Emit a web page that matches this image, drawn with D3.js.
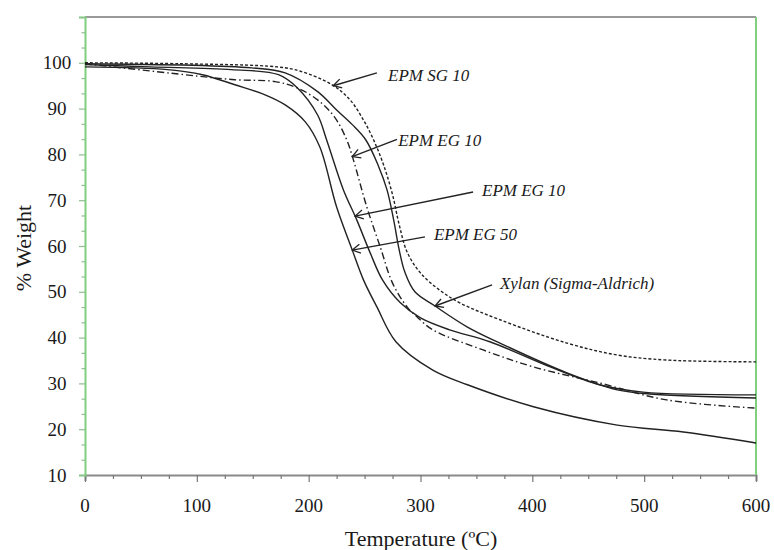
<!DOCTYPE html>
<html>
<head>
<meta charset="utf-8">
<script src="https://cdn.jsdelivr.net/npm/d3@7"></script>
<style>
  html, body { margin: 0; padding: 0; background: #fff; }
  svg { display: block; }
  text { font-family: "Liberation Serif", "Times New Roman", serif; fill: #1a1a1a; }
</style>
</head>
<body>
<svg id="chart" width="774" height="550"></svg>
<script>
// Thermogravimetric curves: temperature (°C) against residual weight (%)
const sg10Temp = [0, 85, 172, 192, 221, 237, 249, 258, 267, 275, 281, 288, 300, 317, 335, 371, 431, 476, 520, 600];
const sg10Wt   = [100.0, 99.8, 99.1, 98.2, 95.2, 91.9, 87.5, 83.2, 77.7, 71.2, 64.6, 58.7, 54.1, 50.4, 47.6, 43.9, 38.8, 36.2, 35.1, 34.7];

const eg10aTemp = [0, 89, 134, 170, 190, 208, 223, 234, 240, 252, 264, 275, 288, 297, 311, 356, 401, 460, 520, 600];
const eg10aWt   = [99.8, 97.4, 96.3, 95.9, 94.5, 91.9, 88.2, 83.2, 78.8, 68.5, 59.8, 51.9, 46.7, 44.5, 41.7, 37.3, 33.6, 30.1, 26.4, 24.6];

const eg10bTemp = [0, 58, 131, 173, 190, 208, 216, 231, 243, 255, 266, 282, 300, 326, 362, 416, 460, 499, 600];
const eg10bWt   = [99.6, 99.1, 98.5, 97.4, 94.5, 88.6, 83.2, 72.3, 65.7, 58.5, 52.6, 47.6, 44.3, 41.7, 39.1, 33.6, 29.7, 28.1, 27.5];

const eg50Temp = [0, 74, 105, 134, 161, 179, 197, 210, 225, 239, 249, 261, 278, 311, 342, 401, 476, 535, 600];
const eg50Wt   = [99.1, 98.5, 97.4, 95.2, 93.0, 90.8, 87.1, 81.6, 68.5, 59.1, 52.6, 46.7, 39.1, 32.9, 29.7, 24.9, 20.9, 19.4, 17.0];

const xylanTemp = [0, 149, 179, 208, 225, 239, 251, 262, 270, 276, 281, 286, 295, 313, 342, 371, 431, 476, 505, 600];
const xylanWt   = [99.8, 98.9, 97.8, 93.7, 89.7, 86.5, 83.2, 77.7, 72.3, 65.7, 59.1, 54.3, 50.0, 46.9, 42.3, 38.8, 32.3, 28.6, 27.7, 26.8];

const xTickValues = [0, 100, 200, 300, 400, 500, 600];
const yTickValues = [10, 20, 30, 40, 50, 60, 70, 80, 90, 100];

const seriesNames = ["EPM SG 10", "EPM EG 10", "EPM EG 10", "EPM EG 50", "Xylan (Sigma-Aldrich)"];

// Line styles per series
const series = [
  { name: seriesNames[0], t: sg10Temp,  w: sg10Wt,  dash: "3,2" },
  { name: seriesNames[1], t: eg10aTemp, w: eg10aWt, dash: "7,3,1.5,3" },
  { name: seriesNames[2], t: eg10bTemp, w: eg10bWt, dash: null },
  { name: seriesNames[3], t: eg50Temp,  w: eg50Wt,  dash: null },
  { name: seriesNames[4], t: xylanTemp, w: xylanWt, dash: null }
];

// Callout labels: label anchor (T, W), arrow tail (T, W), arrow tip temperature on its curve
const callouts = [
  { s: 0, label: [271, 97.4], tail: [261, 97.8], tipT: 222 },
  { s: 1, label: [280, 83.2], tail: [279, 83.3], tipT: 239 },
  { s: 2, label: [355, 72.3], tail: [347, 71.8], tipT: 241.5 },
  { s: 3, label: [312, 62.6], tail: [304, 62.0], tipT: 239 },
  { s: 4, label: [371, 51.9], tail: [364, 51.5], tipT: 313 }
];

const svg = d3.select("#chart");
const x = d3.scaleLinear().domain([0, 600]).range([85, 756]);
const y = d3.scaleLinear().domain([10, 110]).range([475, 17]);

// Frame: grey top and bottom, green left and right
svg.append("line").attr("x1", x(0)).attr("x2", x(600)).attr("y1", y(110)).attr("y2", y(110))
  .attr("stroke", "#9a9a9a").attr("stroke-width", 2);

// X axis with minor ticks every 25
const xMinor = d3.range(0, 601, 25);
const xAxisG = svg.append("g").attr("transform", `translate(0,${y(10)})`);
xAxisG.call(d3.axisBottom(x).tickValues(xMinor).tickSize(6).tickFormat(""));
xAxisG.select(".domain").attr("stroke", "#8a8a8a").attr("stroke-width", 2);
xAxisG.selectAll(".tick line").attr("stroke", "#777").attr("stroke-width", 1.2)
  .attr("y2", d => (d % 100 === 0 ? 7 : 4));
xAxisG.selectAll(".tick text").remove();

// Y axis with minor ticks every 10/3
const yMinor = d3.range(0, 31).map(i => 10 + i * 10 / 3);
const yAxisG = svg.append("g").attr("transform", `translate(${x(0)},0)`);
yAxisG.call(d3.axisLeft(y).tickValues(yMinor).tickSize(6).tickFormat(""));
yAxisG.select(".domain").attr("stroke", "#7fcf7f").attr("stroke-width", 2);
yAxisG.selectAll(".tick line").attr("stroke", "#8fbf8f").attr("stroke-width", 1.2)
  .attr("x2", (d, i) => (i % 3 === 0 ? -6 : -3.5));

svg.append("line").attr("x1", x(600)).attr("x2", x(600)).attr("y1", y(110)).attr("y2", y(10))
  .attr("stroke", "#7fcf7f").attr("stroke-width", 2);

// Tick labels
svg.append("g").selectAll("text").data(yTickValues).join("text")
  .attr("x", 57).attr("y", d => y(d)).attr("dy", "0.35em")
  .attr("text-anchor", "middle").attr("font-size", 19).text(d => d);

svg.append("g").selectAll("text").data(xTickValues).join("text")
  .attr("x", d => x(d)).attr("y", 505).attr("dy", "0.35em")
  .attr("text-anchor", "middle").attr("font-size", 19).text(d => d);

// Axis titles
svg.append("text").attr("transform", "translate(23,248) rotate(-90)")
  .attr("text-anchor", "middle").attr("dy", "0.35em").attr("font-size", 22).text("% Weight");
svg.append("text").attr("x", 421).attr("y", 538).attr("dy", "0.35em")
  .attr("text-anchor", "middle").attr("font-size", 22).text("Temperature (ºC)");

// Curves
const line = d3.line().x(d => x(d[0])).y(d => y(d[1])).curve(d3.curveCatmullRom.alpha(0.5));
svg.append("g").selectAll("path").data(series).join("path")
  .attr("d", s => line(s.t.map((t, i) => [t, s.w[i]])))
  .attr("fill", "none").attr("stroke", "#222").attr("stroke-width", 1.4)
  .attr("stroke-dasharray", s => s.dash);

// Arrowhead
svg.append("defs").append("marker")
  .attr("id", "arrowhead").attr("viewBox", "-10 -6 12 12")
  .attr("refX", 0).attr("refY", 0).attr("markerWidth", 12).attr("markerHeight", 12)
  .attr("markerUnits", "userSpaceOnUse").attr("orient", "auto")
  .append("path").attr("d", "M-8,-4.5 L0,0 L-8,4.5")
  .attr("fill", "none").attr("stroke", "#222").attr("stroke-width", 1.3);

function valueAt(s, t) {
  return d3.scaleLinear().domain(s.t).range(s.w)(t);
}

const cg = svg.append("g");
callouts.forEach(c => {
  const s = series[c.s];
  const tipW = valueAt(s, c.tipT);
  cg.append("line")
    .attr("x1", x(c.tail[0])).attr("y1", y(c.tail[1]))
    .attr("x2", x(c.tipT)).attr("y2", y(tipW))
    .attr("stroke", "#222").attr("stroke-width", 1.4)
    .attr("marker-end", "url(#arrowhead)");
  cg.append("text")
    .attr("x", x(c.label[0])).attr("y", y(c.label[1])).attr("dy", "0.35em")
    .attr("font-size", 17).attr("font-style", "italic").text(s.name);
});
</script>
</body>
</html>
